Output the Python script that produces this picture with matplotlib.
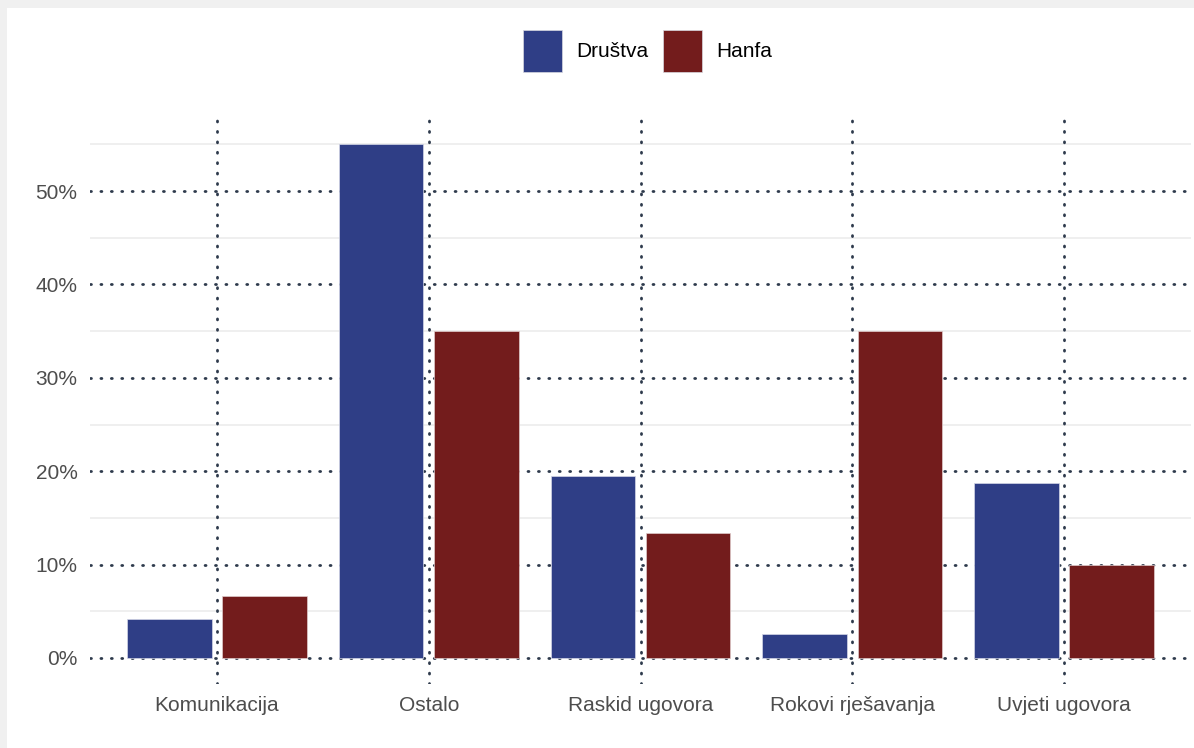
import matplotlib
matplotlib.use("Agg")
import matplotlib.pyplot as plt
import numpy as np
from matplotlib.patches import Rectangle
from matplotlib.ticker import FuncFormatter, MultipleLocator

# Complaint categories and share of each source (percent)
categories = ["Komunikacija", "Ostalo", "Raskid ugovora", "Rokovi rješavanja", "Uvjeti ugovora"]
drustva = [4.2, 55.0, 19.5, 2.6, 18.7]
hanfa = [6.67, 35.0, 13.33, 35.0, 10.0]
series_names = ["Društva", "Hanfa"]
colors = ["#2f3e86", "#731c1c"]

plt.rcParams["font.family"] = ["Liberation Sans", "DejaVu Sans"]

fig = plt.figure(figsize=(11.94, 7.48), dpi=100)
fig.patch.set_facecolor("white")

# light frame strips on the top and left edges
fig.patches.append(Rectangle((0, 1 - 8 / 748), 1, 8 / 748, transform=fig.transFigure,
                             facecolor="#f0f0f0", edgecolor="none", zorder=0))
fig.patches.append(Rectangle((0, 0), 7 / 1194, 1, transform=fig.transFigure,
                             facecolor="#f0f0f0", edgecolor="none", zorder=0))

ax = fig.add_axes([90 / 1194, 0.0860, (1191 - 90) / 1194, 0.7554])
ax.set_facecolor("white")

x = np.arange(len(categories))
width = 0.4
offset = 0.225
ax.bar(x - offset, drustva, width, color=colors[0], edgecolor="#d4d7e6",
       linewidth=0.5, zorder=3, label=series_names[0])
ax.bar(x + offset, hanfa, width, color=colors[1], edgecolor="#e0cccc",
       linewidth=0.5, zorder=3, label=series_names[1])

ax.set_xlim(-0.6, len(categories) - 0.4)
ax.set_ylim(-2.75, 57.75)

# minor grid: light solid lines
for yv in np.arange(5, 56, 10):
    ax.axhline(yv, color="#ebebeb", lw=1.1, zorder=1)

# major grid: dark dotted lines
dot_style = dict(color="#2e3a4c", lw=2.0, linestyle=(0, (0.35, 3.4)),
                 dash_capstyle="round", zorder=2)
for yv in np.arange(0, 51, 10):
    ax.axhline(yv, **dot_style)
for xv in x:
    ax.axvline(xv, **dot_style)

ax.yaxis.set_major_locator(MultipleLocator(10))
ax.yaxis.set_major_formatter(FuncFormatter(lambda v, p: f"{v:.0f}%"))
ax.set_xticks(x)
ax.set_xticklabels(categories)
ax.tick_params(axis="both", length=0, labelsize=15, labelcolor="#4d4d4d")
ax.tick_params(axis="y", pad=9)
ax.tick_params(axis="x", pad=9)
for s in ax.spines.values():
    s.set_visible(False)

handles = [Rectangle((0, 0), 1, 1, facecolor=c, edgecolor="#d8d8e0", linewidth=0.5)
           for c in colors]
fig.legend(handles, series_names, loc="center", bbox_to_anchor=(648 / 1194, 1 - 51 / 748),
           ncol=2, frameon=False, fontsize=15, handlelength=1.86, handleheight=2.73,
           handletextpad=0.7, columnspacing=0.7, borderaxespad=0, borderpad=0)

fig.savefig("out.png", dpi=100)
